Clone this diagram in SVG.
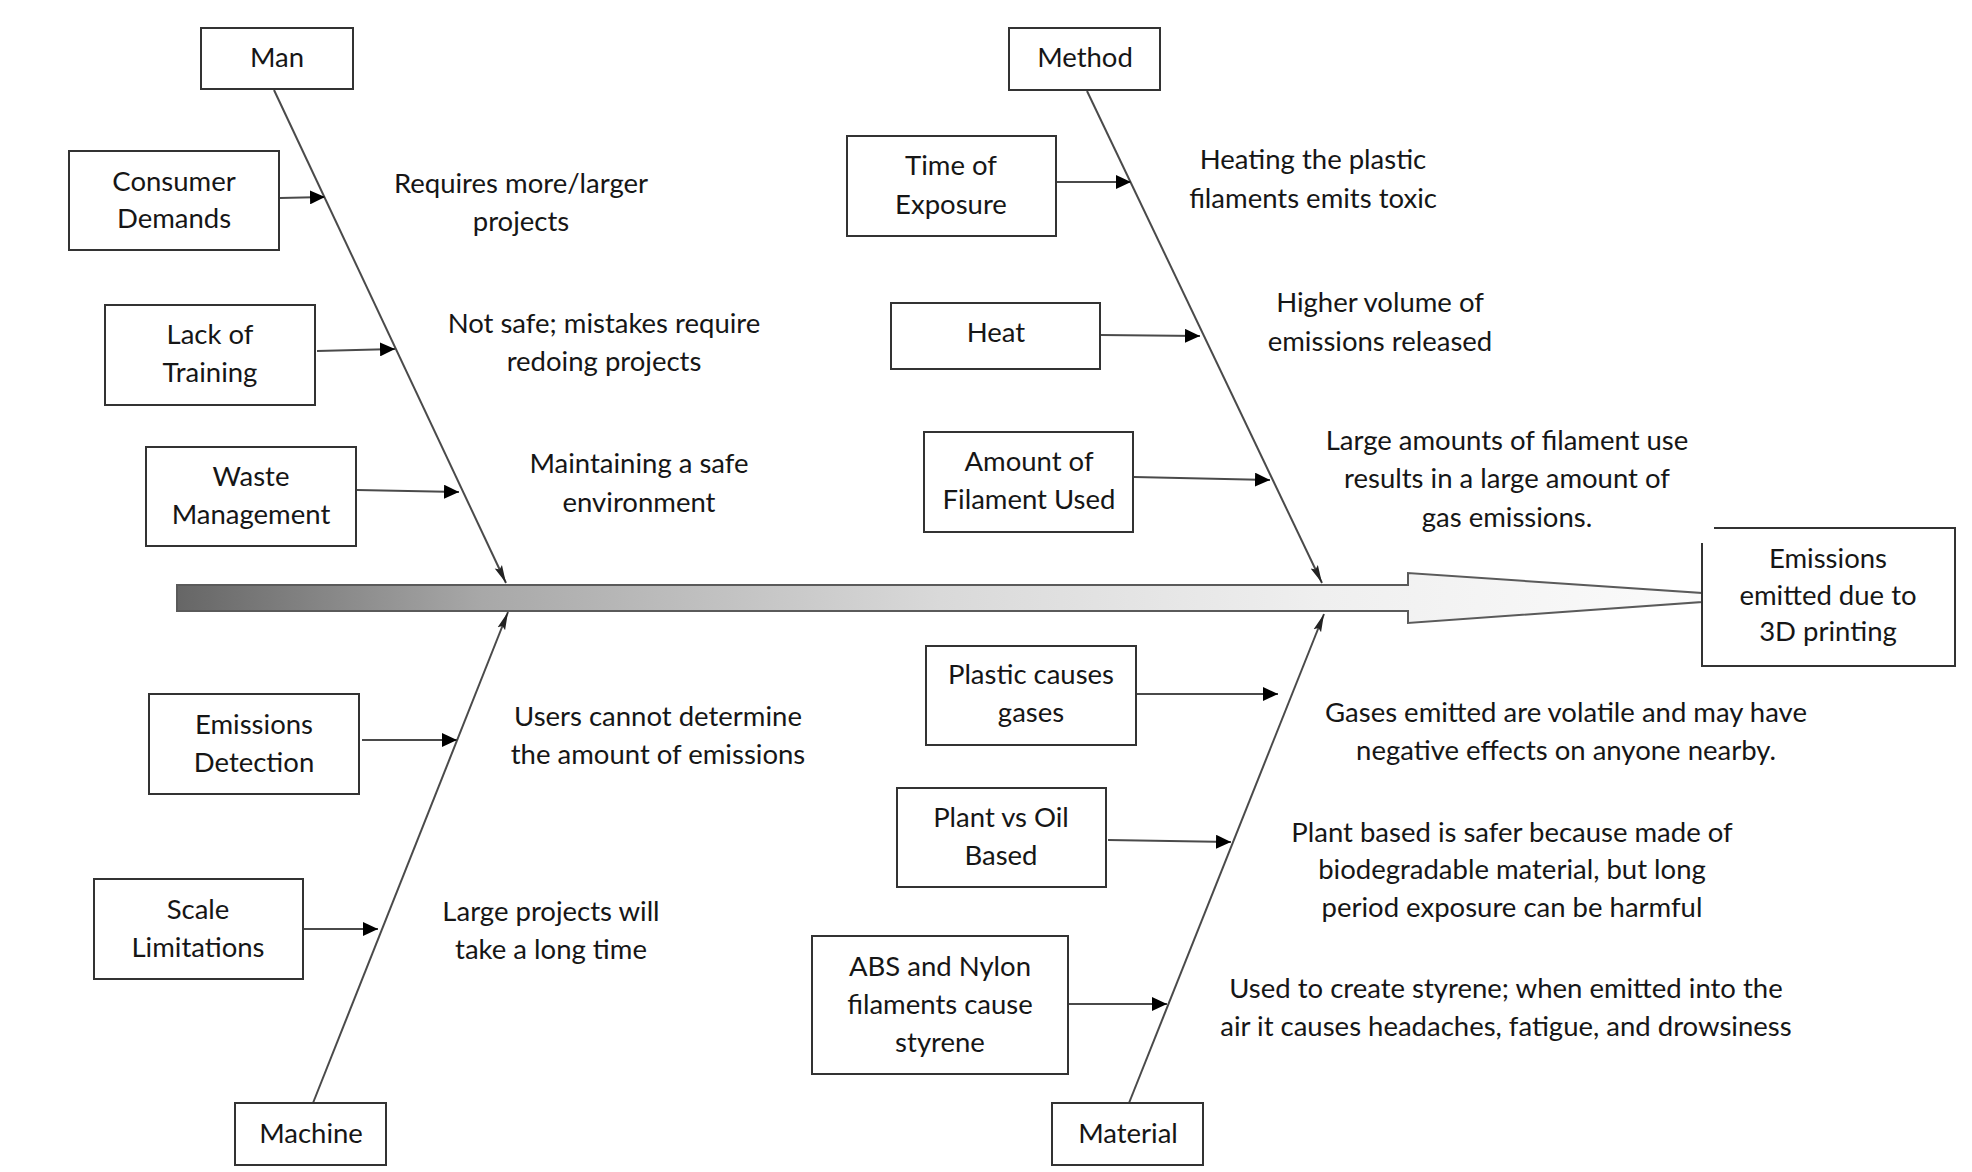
<svg xmlns="http://www.w3.org/2000/svg" width="1972" height="1172" viewBox="0 0 1972 1172">
<style>
.box{fill:#fff;stroke:#333;stroke-width:2}
.t{font-family:Lato,"Liberation Sans",sans-serif;font-size:27.5px;fill:#161616;text-anchor:middle}
.spine{stroke:#4a4a4a;stroke-width:2;fill:none;marker-end:url(#slim)}
.arr{stroke:#4a4a4a;stroke-width:2;fill:none;marker-end:url(#solid)}
</style>
<defs>
<linearGradient id="gh" gradientUnits="userSpaceOnUse" x1="177" y1="0" x2="1702" y2="0">
<stop offset="0" stop-color="#666"/>
<stop offset="0.2" stop-color="#a8a8a8"/>
<stop offset="0.5" stop-color="#d9d9d9"/>
<stop offset="0.75" stop-color="#efefef"/>
<stop offset="1" stop-color="#fbfbfb"/>
</linearGradient>
<marker id="solid" markerUnits="userSpaceOnUse" markerWidth="15" markerHeight="14" refX="15" refY="7" orient="auto">
<path d="M0,0 L15,7 L0,14 z" fill="#000"/>
</marker>
<marker id="slim" markerUnits="userSpaceOnUse" markerWidth="18" markerHeight="10" refX="18" refY="5" orient="auto">
<path d="M0,1 L18,5 L0,9 L3,5 z" fill="#222"/>
</marker>
</defs>

<g id="spine">
<path d="M177,585 H1408 V573 L1702,593 V602 L1408,623 V611 H177 Z" fill="url(#gh)" stroke="#5a5a5a" stroke-width="2"/>
</g>

<g id="connectors">
<line class="spine" x1="274" y1="90" x2="506" y2="583"/>
<line class="spine" x1="1087" y1="91" x2="1322" y2="583"/>
<line class="spine" x1="313" y1="1103" x2="508" y2="612"/>
<line class="spine" x1="1129" y1="1103" x2="1324" y2="614"/>
<line class="arr" x1="280" y1="198" x2="325" y2="197"/>
<line class="arr" x1="317" y1="351" x2="395" y2="349"/>
<line class="arr" x1="357" y1="490" x2="459" y2="492"/>
<line class="arr" x1="1057" y1="182" x2="1131" y2="182"/>
<line class="arr" x1="1101" y1="335" x2="1200" y2="336"/>
<line class="arr" x1="1134" y1="477" x2="1270" y2="480"/>
<line class="arr" x1="362" y1="740" x2="457" y2="740"/>
<line class="arr" x1="303" y1="929" x2="378" y2="929"/>
<line class="arr" x1="1137" y1="694" x2="1278" y2="694"/>
<line class="arr" x1="1108" y1="840" x2="1231" y2="842"/>
<line class="arr" x1="1069" y1="1004" x2="1167" y2="1004"/>
</g>

<g id="man"><rect class="box" x="201" y="28" width="152" height="61"/><text class="t" x="277" y="67">Man</text></g>
<g id="method"><rect class="box" x="1009" y="28" width="151" height="62"/><text class="t" x="1085" y="67">Method</text></g>
<g id="machine"><rect class="box" x="235" y="1103" width="151" height="62"/><text class="t" x="311" y="1143">Machine</text></g>
<g id="material"><rect class="box" x="1052" y="1103" width="151" height="62"/><text class="t" x="1128" y="1143">Material</text></g>

<g id="consumer-demands"><rect class="box" x="69" y="151" width="210" height="99"/><text class="t" x="174" y="191">Consumer</text><text class="t" x="174" y="228">Demands</text></g>
<g id="lack-of-training"><rect class="box" x="105" y="305" width="210" height="100"/><text class="t" x="210" y="344">Lack of</text><text class="t" x="210" y="382">Training</text></g>
<g id="waste-management"><rect class="box" x="146" y="447" width="210" height="99"/><text class="t" x="251" y="486">Waste</text><text class="t" x="251" y="524">Management</text></g>

<g id="time-of-exposure"><rect class="box" x="847" y="136" width="209" height="100"/><text class="t" x="951" y="175">Time of</text><text class="t" x="951" y="214">Exposure</text></g>
<g id="heat"><rect class="box" x="891" y="303" width="209" height="66"/><text class="t" x="996" y="342">Heat</text></g>
<g id="amount-of-filament"><rect class="box" x="924" y="432" width="209" height="100"/><text class="t" x="1029" y="471">Amount of</text><text class="t" x="1029" y="509">Filament Used</text></g>

<g id="emissions-detection"><rect class="box" x="149" y="694" width="210" height="100"/><text class="t" x="254" y="734">Emissions</text><text class="t" x="254" y="772">Detection</text></g>
<g id="scale-limitations"><rect class="box" x="94" y="879" width="209" height="100"/><text class="t" x="198" y="919">Scale</text><text class="t" x="198" y="957">Limitations</text></g>

<g id="plastic-causes-gases"><rect class="box" x="926" y="646" width="210" height="99"/><text class="t" x="1031" y="684">Plastic causes</text><text class="t" x="1031" y="722">gases</text></g>
<g id="plant-vs-oil"><rect class="box" x="897" y="788" width="209" height="99"/><text class="t" x="1001" y="827">Plant vs Oil</text><text class="t" x="1001" y="865">Based</text></g>
<g id="abs-nylon"><rect class="box" x="812" y="936" width="256" height="138"/><text class="t" x="940" y="976">ABS and Nylon</text><text class="t" x="940" y="1014">filaments cause</text><text class="t" x="940" y="1052">styrene</text></g>

<g id="effect"><path d="M1714,528 H1955 V666 H1702 V543" fill="#fff" stroke="#333" stroke-width="2"/><text class="t" x="1828" y="568">Emissions</text><text class="t" x="1828" y="605">emitted due to</text><text class="t" x="1828" y="641">3D printing</text></g>

<g id="notes">
<text class="t" x="521" y="193">Requires more/larger</text><text class="t" x="521" y="231">projects</text>
<text class="t" x="604" y="333">Not safe; mistakes require</text><text class="t" x="604" y="371">redoing projects</text>
<text class="t" x="639" y="473">Maintaining a safe</text><text class="t" x="639" y="512">environment</text>
<text class="t" x="1313" y="169">Heating the plastic</text><text class="t" x="1313" y="208">filaments emits toxic</text>
<text class="t" x="1380" y="312">Higher volume of</text><text class="t" x="1380" y="351">emissions released</text>
<text class="t" x="1507" y="450">Large amounts of filament use</text><text class="t" x="1507" y="488">results in a large amount of</text><text class="t" x="1507" y="527">gas emissions.</text>
<text class="t" x="658" y="726">Users cannot determine</text><text class="t" x="658" y="764">the amount of emissions</text>
<text class="t" x="551" y="921">Large projects will</text><text class="t" x="551" y="959">take a long time</text>
<text class="t" x="1566" y="722">Gases emitted are volatile and may have</text><text class="t" x="1566" y="760">negative effects on anyone nearby.</text>
<text class="t" x="1512" y="842">Plant based is safer because made of</text><text class="t" x="1512" y="879">biodegradable material, but long</text><text class="t" x="1512" y="917">period exposure can be harmful</text>
<text class="t" x="1506" y="998">Used to create styrene; when emitted into the</text><text class="t" x="1506" y="1036">air it causes headaches, fatigue, and drowsiness</text>
</g>
</svg>
